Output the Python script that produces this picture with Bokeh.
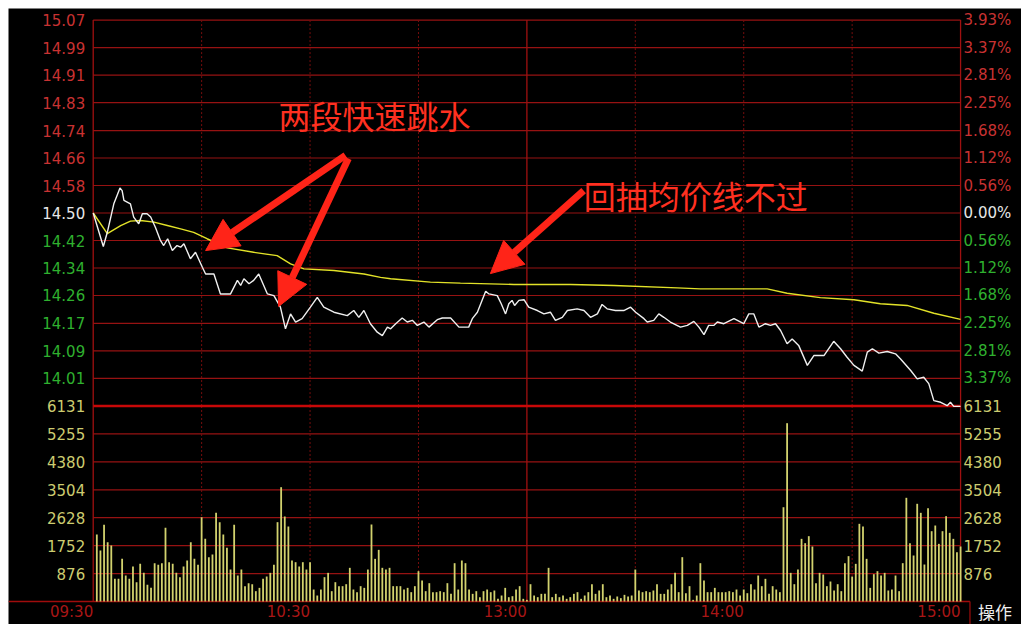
from bokeh.plotting import figure
from bokeh.models import Range1d, Arrow, NormalHead
from bokeh.core.properties import value
from bokeh.embed import file_html
from bokeh.resources import INLINE

# ---------------- data ----------------
pre_close = 14.50
pct_ticks = [3.93, 3.37, 2.81, 2.25, 1.68, 1.12, 0.56, 0.0,
             -0.56, -1.12, -1.68, -2.25, -2.81, -3.37]
price_labels = ["15.07", "14.99", "14.91", "14.83", "14.74", "14.66", "14.58", "14.50",
                "14.42", "14.34", "14.26", "14.17", "14.09", "14.01"]
pct_labels = ["3.93%", "3.37%", "2.81%", "2.25%", "1.68%", "1.12%", "0.56%", "0.00%",
              "0.56%", "1.12%", "1.68%", "2.25%", "2.81%", "3.37%"]
vol_ticks = [6131, 5255, 4380, 3504, 2628, 1752, 876]
vol_labels = ["6131", "5255", "4380", "3504", "2628", "1752", "876"]
time_ticks = [0, 60, 120, 180, 240]
time_labels = ["09:30", "10:30", "13:00", "14:00", "15:00"]
half_hours = [30, 60, 90, 150, 180, 210]

price_min = [0, 2.8, 3.9, 5.7, 6.6, 7.4, 8.0, 8.5, 9.4, 10.3, 11.2, 12.6, 13.6, 14.9, 15.9,
             17.2, 18.6, 19.5, 20.6, 21.9, 23.2, 24.2, 25.1, 26.9, 28.3, 30.2, 31.1, 33.4,
             35.2, 38.0, 39.9, 40.8, 41.7, 43.1, 44.4, 45.8, 48.2, 50.0, 51.8, 53.2, 54.6,
             56.0, 57.8, 60.1, 62.0, 63.8, 66.6, 70.3, 72.1, 73.5, 74.9, 76.7, 78.6, 80.0,
             81.4, 82.3, 83.7, 85.5, 86.9, 88.3, 89.7, 91.5, 92.9, 95.2, 96.6, 98.9, 101.2,
             103.9, 104.9, 106.3, 108.6, 109.5, 111.8, 112.9, 114.1, 115.0, 115.9, 116.6,
             117.8, 119.2, 120.5, 122.9, 124.7, 126.5, 127.9, 129.8, 131.2, 133.9, 135.8,
             137.6, 139.5, 140.8, 142.2, 144.5, 146.8, 148.7, 150.1, 152.4, 153.3, 155.1,
             156.5, 157.9, 159.7, 162.5, 164.4, 166.2, 167.6, 169.0, 170.3, 171.7, 172.7,
             174.5, 177.3, 180.0, 181.4, 182.8, 184.2, 186.0, 187.4, 188.8, 190.2, 192.0,
             193.4, 195.2, 197.6, 199.4, 202.2, 204.9, 206.8, 208.6, 210.5, 212.8, 214.2,
             215.6, 217.4, 219.7, 222.0, 223.4, 226.2, 228.0, 229.8, 231.2, 232.6, 234.5,
             236.3, 237.2, 238.1, 240.0]
price_val = [14.50, 14.401, 14.443, 14.527, 14.552, 14.574, 14.566, 14.537, 14.532, 14.527,
             14.488, 14.468, 14.498, 14.498, 14.488, 14.458, 14.419, 14.404, 14.424, 14.389,
             14.404, 14.399, 14.409, 14.365, 14.384, 14.340, 14.320, 14.320, 14.261, 14.261,
             14.301, 14.286, 14.306, 14.291, 14.301, 14.320, 14.261, 14.256, 14.222, 14.158,
             14.202, 14.178, 14.188, 14.222, 14.251, 14.222, 14.207, 14.197, 14.212, 14.192,
             14.212, 14.173, 14.148, 14.138, 14.163, 14.158, 14.173, 14.190, 14.178, 14.183,
             14.168, 14.178, 14.163, 14.185, 14.190, 14.190, 14.163, 14.163, 14.188, 14.207,
             14.269, 14.261, 14.256, 14.232, 14.202, 14.232, 14.242, 14.227, 14.242, 14.244,
             14.222, 14.212, 14.202, 14.207, 14.183, 14.192, 14.212, 14.217, 14.212, 14.192,
             14.202, 14.230, 14.217, 14.212, 14.212, 14.222, 14.207, 14.188, 14.178, 14.183,
             14.202, 14.192, 14.178, 14.163, 14.168, 14.180, 14.163, 14.141, 14.168, 14.168,
             14.178, 14.173, 14.188, 14.173, 14.202, 14.202, 14.163, 14.173, 14.168, 14.173,
             14.153, 14.114, 14.128, 14.109, 14.050, 14.079, 14.079, 14.121, 14.099, 14.074,
             14.050, 14.033, 14.089, 14.099, 14.086, 14.091, 14.084, 14.069, 14.035, 14.010,
             14.015, 13.996, 13.946, 13.941, 13.931, 13.941, 13.929, 13.929]

avg_min = [0, 3.9, 7.6, 10.3, 13.1, 16.8, 20.5, 24.2, 27.8, 31.5, 37.1, 44.4, 50.9, 54.6,
           58.3, 66.6, 74.9, 79.5, 82.3, 93.3, 101.6, 116.4, 132.1, 144.1, 161.6, 168.0,
           186.5, 192.0, 201.2, 210.5, 217.8, 225.2, 232.6, 240.0]
avg_val = [14.50, 14.439, 14.463, 14.476, 14.478, 14.473, 14.463, 14.453, 14.443, 14.424,
           14.397, 14.384, 14.374, 14.350, 14.335, 14.330, 14.320, 14.310, 14.306, 14.296,
           14.293, 14.289, 14.289, 14.286, 14.279, 14.276, 14.276, 14.263, 14.250, 14.244,
           14.232, 14.227, 14.204, 14.186]

volume = [2101, 1599, 2405, 1860, 1756, 711, 711, 1338, 815, 711,
          1098, 606, 1181, 899, 523, 428, 1202, 1150, 1202, 2311,
          1233, 1181, 899, 763, 1098, 1286, 1860, 1338, 1150, 2644,
          1965, 1390, 1474, 2781, 2488, 2101, 1683, 1003, 2405, 815,
          1003, 481, 575, 543, 324, 428, 711, 784, 899, 1150,
          2488, 3585, 2666, 2352, 1286, 1233, 1098, 1233, 1003, 1233,
          376, 188, 376, 763, 899, 324, 606, 481, 481, 543,
          1056, 376, 293, 481, 428, 1003, 2415, 1338, 1620, 1056,
          1003, 1056, 481, 481, 481, 376, 428, 293, 481, 951,
          659, 324, 575, 293, 293, 324, 293, 575, 240, 1202,
          376, 1286, 1202, 376, 240, 324, 136, 324, 376, 293,
          345, 84, 188, 428, 136, 167, 376, 481, 84, 52,
          543, 188, 136, 240, 240, 1056, 136, 240, 136, 188,
          84, 136, 240, 293, 84, 188, 293, 543, 240, 345,
          543, 136, 188, 84, 157, 105, 209, 157, 188, 1003,
          345, 293, 324, 293, 345, 543, 240, 240, 376, 543,
          899, 293, 1390, 261, 481, 52, 188, 1202, 659, 293,
          293, 428, 293, 293, 293, 324, 293, 376, 188, 376,
          261, 543, 376, 815, 481, 711, 240, 481, 376, 293,
          2957, 5592, 899, 543, 1003, 1965, 1829, 2049, 1725, 575,
          899, 847, 481, 627, 345, 543, 324, 1202, 1422, 784,
          1181, 2436, 2352, 1338, 428, 857, 951, 815, 899, 345,
          376, 815, 324, 1202, 3252, 1829, 1443, 3064, 2781, 1160,
          2926, 2205, 2383, 1808, 2205, 2676, 2154, 1965, 1546, 1725]
vol_min = list(range(1, len(volume) + 1))

note_texts = ["两段快速跳水", "回抽均价线不过"]
note_x = [51.3, 135.7]
note_y = [14.788, 14.552]
arrows = [  # (x_start, y_start, x_end, y_end) in minutes / price
    (69.8, 14.670, 31.1, 14.389),
    (70.6, 14.661, 51.3, 14.224),
    (135.7, 14.566, 109.9, 14.321),
]

# ---------------- derived ----------------
grid_prices = [pre_close * (1 + v / 100.0) for v in pct_ticks]
price_low = pre_close * (1 - pct_ticks[0] / 100.0)
label_colors = ["#c83232"] * 7 + ["#e6e6e6"] + ["#2fb02f"] * 6

RED = "#961212"
BRIGHT = "#c80808"
FONT = value("DejaVu Sans")

p = figure(width=1013, height=616,
           x_range=Range1d(-23.44, 256.86), y_range=Range1d(13.2847, 15.1040),
           output_backend="svg", toolbar_location=None,
           x_axis_type=None, y_axis_type=None, min_border=0,
           background_fill_color="#000000", border_fill_color="#000000",
           outline_line_color=None)
p.margin = (8, 8, 0, 8)
p.extra_y_ranges = {"vol": Range1d(-721, 18597)}

# horizontal grid (price)
p.segment(x0=[0] * len(grid_prices), x1=[240] * len(grid_prices),
          y0=grid_prices, y1=grid_prices, line_color=RED, line_width=1.2)
# horizontal grid (volume)
p.segment(x0=[0] * 6, x1=[240] * 6, y0=vol_ticks[1:], y1=vol_ticks[1:],
          line_color=RED, line_width=1.2, y_range_name="vol")
# dotted verticals
p.segment(x0=half_hours, x1=half_hours, y0=[grid_prices[0]] * 6, y1=[price_low] * 6,
          line_color="#760d0d", line_width=1, line_dash="2 2")
p.segment(x0=half_hours, x1=half_hours, y0=[vol_ticks[0]] * 6, y1=[0] * 6,
          line_color="#760d0d", line_width=1, line_dash="2 2", y_range_name="vol")
# solid verticals: borders and midday
solid_v = [0, 120, 240]
p.segment(x0=solid_v, x1=solid_v, y0=[grid_prices[0]] * 3, y1=[price_low] * 3,
          line_color="#a01010", line_width=1.3)
p.segment(x0=solid_v, x1=solid_v, y0=[vol_ticks[0]] * 3, y1=[0] * 3,
          line_color="#a01010", line_width=1.3, y_range_name="vol")
# separator between price and volume panels
p.segment(x0=[0], x1=[240], y0=[price_low], y1=[price_low], line_color=BRIGHT, line_width=2.5)
# bottom line + separator before "操作"
p.segment(x0=[-23.44], x1=[242.6], y0=[0], y1=[0], line_color="#a00c0c",
          line_width=1.5, y_range_name="vol")
p.segment(x0=[242.6], x1=[242.6], y0=[0], y1=[-721], line_color="#a00c0c",
          line_width=1.2, y_range_name="vol")

# volume bars
p.vbar(x=vol_min, top=volume, bottom=0, width=0.5, fill_color="#d2d26e",
       line_color=None, y_range_name="vol")

# average price line and price line
p.line(avg_min, avg_val, line_color="#e2e228", line_width=1.4)
p.line(price_min, price_val, line_color="#f0f0f0", line_width=1.4)

# axis labels (left / right)
n = len(price_labels)
p.text(x=[0] * n, y=grid_prices, text=price_labels, text_color=label_colors,
       text_font=FONT, text_font_size="15px", text_align="right",
       text_baseline="middle", x_offset=-8)
p.text(x=[240] * n, y=grid_prices, text=pct_labels, text_color=label_colors,
       text_font=FONT, text_font_size="15px", text_align="left",
       text_baseline="middle", x_offset=3)
m = len(vol_labels)
p.text(x=[0] * m, y=vol_ticks, text=vol_labels, text_color="#cccc70",
       text_font=FONT, text_font_size="15px", text_align="right",
       text_baseline="middle", x_offset=-8, y_range_name="vol")
p.text(x=[240] * m, y=vol_ticks, text=vol_labels, text_color="#cccc70",
       text_font=FONT, text_font_size="15px", text_align="left",
       text_baseline="middle", x_offset=3, y_range_name="vol")
# time labels
p.text(x=time_ticks, y=[0] * len(time_ticks), text=time_labels, text_color="#a81616",
       text_font=FONT, text_font_size="15px", text_align="right",
       text_baseline="middle", y_offset=10, y_range_name="vol")
p.text(x=[249.5], y=[0], text=["操作"], text_color="#eeeeee",
       text_font=value("Noto Sans CJK SC"), text_font_size="17px", text_align="center",
       text_baseline="middle", y_offset=10, y_range_name="vol")

# annotations
for xs, ys, xe, ye in arrows:
    p.add_layout(Arrow(x_start=xs, y_start=ys, x_end=xe, y_end=ye,
                       line_color="#ff2418", line_width=7,
                       end=NormalHead(size=32, fill_color="#ff2418", line_color="#ff2418")))
p.text(x=note_x, y=note_y, text=note_texts, text_color="#ff3020",
       text_font=value("Noto Sans CJK SC"), text_font_size="32px",
       text_align="left", text_baseline="middle")

open("out.html", "w").write(file_html(p, INLINE))
